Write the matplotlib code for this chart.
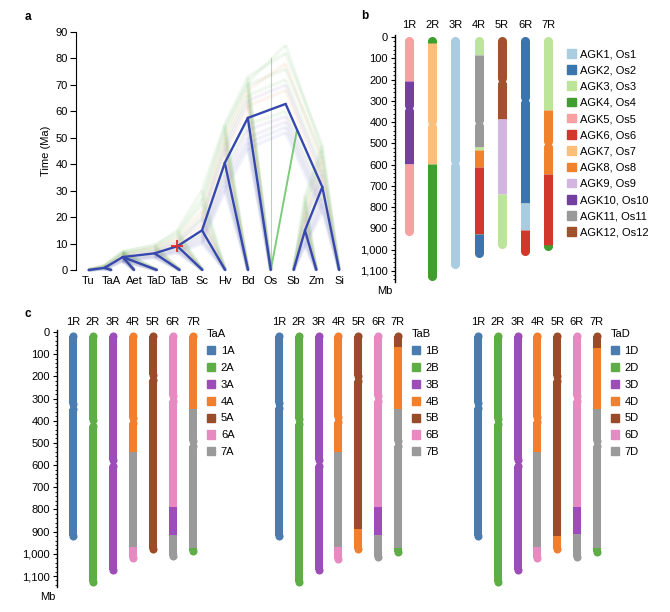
import numpy as np
import matplotlib.pyplot as plt
from matplotlib.patches import Patch
from matplotlib.ticker import MultipleLocator, FuncFormatter

plt.rcParams['font.family'] = ['Liberation Sans', 'DejaVu Sans']
plt.rcParams['font.size'] = 8

# ---------------- panel a: densitree ----------------
taxa = ['Tu', 'TaA', 'Aet', 'TaD', 'TaB', 'Sc', 'Hv', 'Bd', 'Os', 'Sb', 'Zm', 'Si']
node_names = ['N1', 'N2', 'N3', 'N4', 'N5', 'N6', 'N7', 'R', 'N9', 'N10']
node_xs = [0.7, 1.5, 2.9, 3.9, 4.98, 5.98, 6.99, 8.65, 9.5, 10.26]
consensus_h = [0.8, 4.9, 6.3, 9.0, 15.0, 40.5, 57.5, 62.8, 15.0, 31.4]
alt_h = [
    [1.2, 6.0, 7.5, 11.0, 20.0, 48.0, 66.0, 72.0, 20.0, 38.0],
    [0.5, 3.8, 5.2, 7.5, 12.0, 34.0, 50.0, 56.0, 11.0, 25.0],
    [1.5, 6.5, 8.0, 13.0, 25.0, 52.0, 70.0, 76.0, 24.0, 43.0],
    [0.9, 4.5, 6.8, 10.0, 17.0, 44.0, 62.0, 68.0, 17.0, 34.0],
    [0.4, 3.2, 4.6, 6.5, 10.0, 30.0, 46.0, 52.0, 9.0, 22.0],
    [1.8, 7.0, 9.0, 15.0, 30.0, 55.0, 73.0, 82.0, 28.0, 47.0],
    [1.1, 5.5, 7.0, 10.5, 19.0, 46.0, 64.0, 70.0, 19.0, 36.0],
    [0.7, 4.2, 6.0, 8.5, 14.0, 38.0, 55.0, 60.0, 14.0, 29.0],
    [1.4, 5.8, 8.5, 12.0, 22.0, 50.0, 68.0, 78.0, 22.0, 41.0],
    [0.6, 4.0, 5.5, 8.0, 13.0, 36.0, 53.0, 58.0, 13.0, 27.0],
    [1.6, 6.8, 9.5, 14.0, 27.0, 54.0, 71.0, 85.0, 26.0, 45.0],
    [0.3, 3.5, 5.0, 7.0, 11.0, 32.0, 48.0, 54.0, 10.0, 24.0],
]
alt_colors = ['#4daf4a', '#7b5fb0', '#4daf4a', '#e08030', '#5060c0', '#4daf4a',
              '#7b5fb0', '#4daf4a', '#e08030', '#7b5fb0', '#4daf4a', '#5060c0']
edges = [('N1', 'Tu'), ('N1', 'TaA'), ('N2', 'N1'), ('N2', 'Aet'), ('N2', 'TaD'),
         ('N3', 'N2'), ('N3', 'TaB'), ('N4', 'N3'), ('N4', 'Sc'), ('N5', 'N4'),
         ('N5', 'Hv'), ('N6', 'N5'), ('N6', 'Bd'), ('N7', 'N6'), ('N7', 'Os'),
         ('R', 'N7'), ('R', 'N10'), ('N10', 'N9'), ('N10', 'Si'), ('N9', 'Sb'), ('N9', 'Zm')]

# ---------------- panel b: rye vs ancestral karyotype ----------------
rye_chroms = ['1R', '2R', '3R', '4R', '5R', '6R', '7R']
agk_labels = ['AGK1, Os1', 'AGK2, Os2', 'AGK3, Os3', 'AGK4, Os4', 'AGK5, Os5', 'AGK6, Os6',
              'AGK7, Os7', 'AGK8, Os8', 'AGK9, Os9', 'AGK10, Os10', 'AGK11, Os11', 'AGK12, Os12']
agk_colors = ['#a9cce0', '#3a75ad', '#bde59a', '#3f9e2f', '#f9a0a3', '#d1372b',
              '#fbbf7b', '#f0822e', '#d3b6e0', '#7440a0', '#999999', '#a0522d']
rye_segs = [
    [(0, 208, 5), (208, 596, 10), (596, 933, 5)],
    [(0, 26, 4), (26, 599, 7), (599, 1144, 4)],
    [(0, 1089, 1)],
    [(0, 86, 3), (86, 517, 11), (517, 533, 3), (533, 613, 8), (613, 928, 6), (928, 1035, 2)],
    [(0, 387, 12), (387, 740, 9), (740, 993, 3)],
    [(0, 779, 2), (779, 909, 1), (909, 1028, 6)],
    [(0, 345, 3), (345, 645, 8), (645, 976, 6), (976, 1004, 4)],
]
rye_cen = [332, 408, 592, 405, 205, 298, 502]

# ---------------- panel c: rye vs wheat subgenomes ----------------
wheat_colors = ['#4a7cb0', '#5fad46', '#9d4db8', '#f27f2d', '#9a4c2a', '#e68ac2', '#9a9a9a']
taa_segs = [
    [(0, 936, 1)],
    [(0, 1145, 2)],
    [(0, 1092, 3)],
    [(0, 540, 4), (540, 968, 7), (968, 1038, 6)],
    [(0, 995, 5)],
    [(0, 787, 6), (787, 915, 3), (915, 1030, 7)],
    [(0, 346, 4), (346, 975, 7), (975, 1006, 2)],
]
taa_cen = [335, 410, 591, 398, 205, 301, 501]
tab_segs = [
    [(0, 936, 1)],
    [(0, 1145, 2)],
    [(0, 1092, 3)],
    [(0, 539, 4), (539, 968, 7), (968, 1040, 6)],
    [(0, 889, 5), (889, 996, 4)],
    [(0, 787, 6), (787, 915, 3), (915, 1034, 7)],
    [(0, 69, 5), (69, 348, 4), (348, 975, 7), (975, 1008, 2)],
]
tab_cen = [333, 403, 591, 396, 208, 301, 501]
tad_segs = [
    [(0, 936, 1)],
    [(0, 1145, 2)],
    [(0, 1092, 3)],
    [(0, 540, 4), (540, 968, 7), (968, 1038, 6)],
    [(0, 919, 5), (919, 996, 4)],
    [(0, 787, 6), (787, 912, 3), (912, 1032, 7)],
    [(0, 70, 5), (70, 345, 4), (345, 975, 7), (975, 1008, 2)],
]
tad_cen = [333, 403, 591, 396, 208, 301, 501]
subgenomes = ['TaA', 'TaB', 'TaD']
sub_suffix = ['A', 'B', 'D']

W, H = 670, 612
fig = plt.figure(figsize=(6.7, 6.12), dpi=100)


def px_axes(l, t, r, b):
    return fig.add_axes([l / W, 1 - b / H, (r - l) / W, (b - t) / H])


def tree_pos(heights):
    pos = {t: (i, 0.0) for i, t in enumerate(taxa)}
    for n, x, h in zip(node_names, node_xs, heights):
        pos[n] = (x, h)
    return pos


# ---- a ----
ax = px_axes(76, 32, 346, 270)
for heights, col in zip(alt_h, alt_colors):
    pos = tree_pos(heights)
    for p, c in edges:
        ax.plot([pos[p][0], pos[c][0]], [pos[p][1], pos[c][1]], color=col,
                alpha=0.08, lw=2.5, solid_capstyle='butt', clip_on=False)
ax.plot([8, 8], [0, 80], color='#6a9a70', alpha=0.45, lw=0.8)
pos = tree_pos(consensus_h)
ax.plot([8, 9.15], [0, 53], color='#5cc05a', lw=1.4, alpha=0.8)
for p, c in edges:
    ax.plot([pos[p][0], pos[c][0]], [pos[p][1], pos[c][1]], color='#3548b0',
            lw=1.7, solid_capstyle='round', clip_on=False)
ax.plot(*pos['N4'], marker='+', color='#e8282a', ms=9, mew=1.3)
ax.set_xlim(-0.55, 11.3)
ax.set_ylim(0, 90)
ax.set_yticks(range(0, 91, 10))
ax.set_xticks(range(len(taxa)))
ax.set_xticklabels(taxa)
ax.tick_params(axis='x', length=0, pad=4)
ax.tick_params(axis='y', length=4, width=0.8, pad=2)
for s in ['top', 'right', 'bottom']:
    ax.spines[s].set_visible(False)
ax.spines['left'].set_linewidth(0.8)
ax.set_ylabel('Time (Ma)', labelpad=3)
fig.text(28 / W, 1 - 17 / H, 'a', fontsize=8.5, fontweight='bold', ha='center', va='center')


def draw_chrom(ax, i, segs, cen, colors, lw, r):
    end = segs[-1][1]
    ov = 0.35 * r
    for a0, a1 in [(0, cen + ov), (cen - ov, end)]:
        parts = [(max(s, a0), min(e, a1), c) for s, e, c in segs if min(e, a1) > max(s, a0)]
        ax.plot([i], [a0 + r], 'o', ms=lw, color=colors[parts[0][2] - 1], mew=0)
        ax.plot([i], [a1 - r], 'o', ms=lw, color=colors[parts[-1][2] - 1], mew=0)
        for s, e, c in parts:
            s2, e2 = max(s, a0 + r), min(e, a1 - r)
            if e2 > s2:
                ax.plot([i, i], [s2, e2], color=colors[c - 1], lw=lw, solid_capstyle='butt')


def style_chrom_axes(ax, show_y):
    ax.set_xlim(-0.8, 6.5)
    ax.set_ylim(1150, -8)
    ax.set_xticks(range(7))
    ax.set_xticklabels(rye_chroms)
    ax.xaxis.set_ticks_position('top')
    ax.tick_params(axis='x', length=0, pad=2.5)
    for s in ['top', 'right', 'bottom']:
        ax.spines[s].set_visible(False)
    if show_y:
        ax.yaxis.set_major_locator(MultipleLocator(100))
        ax.yaxis.set_minor_locator(MultipleLocator(20))
        ax.yaxis.set_major_formatter(FuncFormatter(lambda v, p: f'{int(v):,}'))
        ax.tick_params(axis='y', which='major', length=3, width=0.8, pad=2)
        ax.tick_params(axis='y', which='minor', length=1.5, width=0.6)
        ax.spines['left'].set_linewidth(1.0)
    else:
        ax.spines['left'].set_visible(False)
        ax.set_yticks([])


# ---- b ----
bx = px_axes(395, 35.3, 560, 281.6)
for i, (segs, cen) in enumerate(zip(rye_segs, rye_cen)):
    draw_chrom(bx, i, segs, cen, agk_colors, 6.5, 21)
style_chrom_axes(bx, True)
bx.set_xlim(-0.6, 6.5)
bx.tick_params(axis='x', pad=3.5)
fig.text(385 / W, 1 - 291 / H, 'Mb', ha='center', va='center')
fig.text(365 / W, 1 - 16 / H, 'b', fontsize=8.5, fontweight='bold', ha='center', va='center')
handles = [Patch(color=c) for c in agk_colors]
fig.legend(handles, agk_labels, loc='upper left', bbox_to_anchor=(567 / W, 1 - 49 / H),
           frameon=False, borderpad=0, borderaxespad=0, handlelength=0.8, handleheight=0.8,
           handletextpad=0.4, labelspacing=0.55, fontsize=8)

# ---- c ----
c_lefts = [73, 279, 478]
c_steps = [20, 19.8, 19.8]
for k, (segs_all, cens) in enumerate(zip([taa_segs, tab_segs, tad_segs], [taa_cen, tab_cen, tad_cen])):
    x0, dx = c_lefts[k], c_steps[k]
    cx = px_axes(x0 - 0.8 * dx, 330.2, x0 + 6.5 * dx, 587.1)
    for i, (segs, cen) in enumerate(zip(segs_all, cens)):
        draw_chrom(cx, i, segs, cen, wheat_colors, 5.8, 18)
    style_chrom_axes(cx, k == 0)
    handles = [Patch(color=c) for c in wheat_colors]
    labels = [f'{n}{sub_suffix[k]}' for n in range(1, 8)]
    fig.legend(handles, labels, title=subgenomes[k], alignment='left', loc='upper left',
               bbox_to_anchor=((x0 + 6.5 * dx + 4) / W, 1 - 329 / H), frameon=False,
               borderpad=0, borderaxespad=0, handlelength=0.75, handleheight=0.75,
               handletextpad=0.5, labelspacing=0.62, fontsize=8, title_fontsize=8)
fig.text(48 / W, 1 - 597 / H, 'Mb', ha='center', va='center')
fig.text(28 / W, 1 - 314 / H, 'c', fontsize=8.5, fontweight='bold', ha='center', va='center')

fig.savefig('out.png', dpi=100)
